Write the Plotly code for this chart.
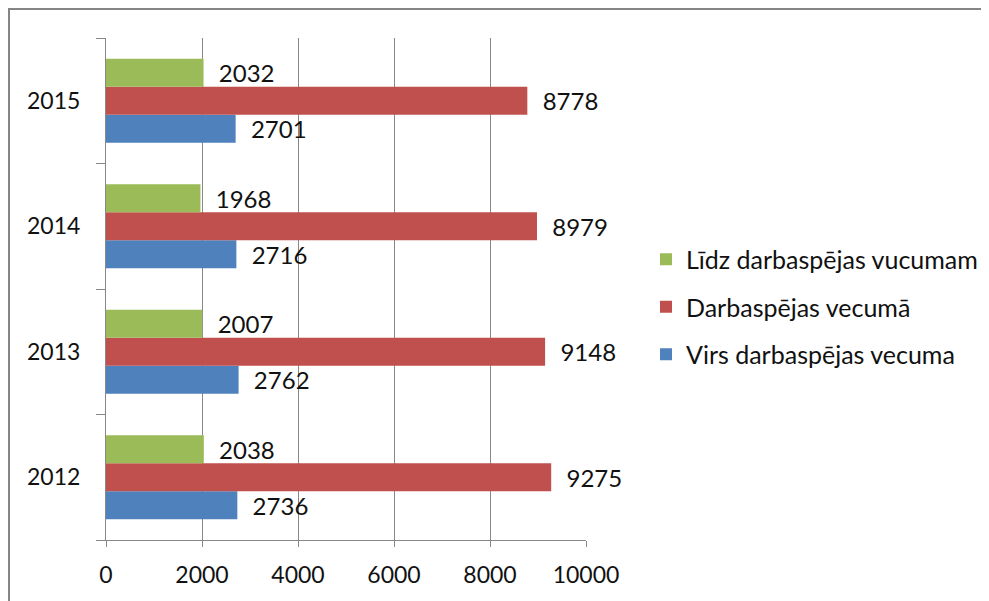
import plotly.graph_objects as go

years = ["2012", "2013", "2014", "2015"]
virs = [2736, 2762, 2716, 2701]
darba = [9275, 9148, 8979, 8778]
lidz = [2038, 2007, 1968, 2032]
names = ["Virs darbaspējas vecuma", "Darbaspējas vecumā", "Līdz darbaspējas vucumam"]
colors = ["#4F81BD", "#C0504D", "#9BBB59"]
ranks = [3, 2, 1]
x_ticks = [0, 2000, 4000, 6000, 8000, 10000]

FONT = "Lato"
OFF = 8  # page body margin
W, H = 989 - OFF, 601 - OFF
L, R, T, B = 106 - OFF, 586 - OFF, 38 - OFF, 540 - OFF

fig = go.Figure()
for i, (nm, vals, col) in enumerate(zip(names, [virs, darba, lidz], colors)):
    fig.add_trace(go.Bar(
        y=years, x=vals, name=nm, orientation="h",
        marker=dict(color=col, line=dict(width=0)),
        text=[str(v) for v in vals],
        texttemplate="\u00a0\u00a0%{text}",
        textposition="outside", cliponaxis=False, constraintext="none",
        textfont=dict(family=FONT, size=24, color="#111"),
        legendgroup=str(i), legendrank=ranks[i],
        hoverinfo="x+name",
    ))

def px(x):
    return (x - OFF - L) / (R - L)

def py(y):
    return (B - (y - OFF)) / (B - T)

fig.update_layout(
    width=W, height=H,
    margin=dict(l=L, r=W - R, t=T, b=H - B, pad=0, autoexpand=False),
    paper_bgcolor="white", plot_bgcolor="white",
    barmode="group", bargap=0.33, bargroupgap=0,
    font=dict(family=FONT, size=23, color="#111"),
    showlegend=True,
    legend=dict(
        x=px(646), y=py(307), xanchor="left", yanchor="middle",
        traceorder="grouped", tracegroupgap=12,
        font=dict(family=FONT, size=25, color="#111"),
        bgcolor="rgba(0,0,0,0)",
    ),
    xaxis=dict(
        range=[0, 10000], tickvals=x_ticks, ticktext=[str(t) for t in x_ticks],
        showgrid=True, gridcolor="#888", gridwidth=1,
        showline=True, linecolor="#888", linewidth=1,
        ticks="outside", ticklen=6, tickcolor="#888",
        zeroline=False, fixedrange=True,
        tickfont=dict(family=FONT, size=23, color="#111"),
        ticklabelstandoff=8,
    ),
    yaxis=dict(
        type="category", categoryorder="array", categoryarray=years,
        showgrid=False, showline=True, linecolor="#888", linewidth=1,
        ticks="outside", ticklen=9, tickcolor="#888", tickson="boundaries",
        tickfont=dict(family=FONT, size=23, color="#111"),
        ticklabelstandoff=20, fixedrange=True,
    ),
    shapes=[
        dict(type="line", xref="paper", yref="paper",
             x0=px(9), x1=px(1000), y0=py(9), y1=py(9),
             line=dict(color="#858585", width=2)),
        dict(type="line", xref="paper", yref="paper",
             x0=px(9), x1=px(9), y0=py(8), y1=py(620),
             line=dict(color="#858585", width=2)),
    ],
)

fig.write_html("out.html")
